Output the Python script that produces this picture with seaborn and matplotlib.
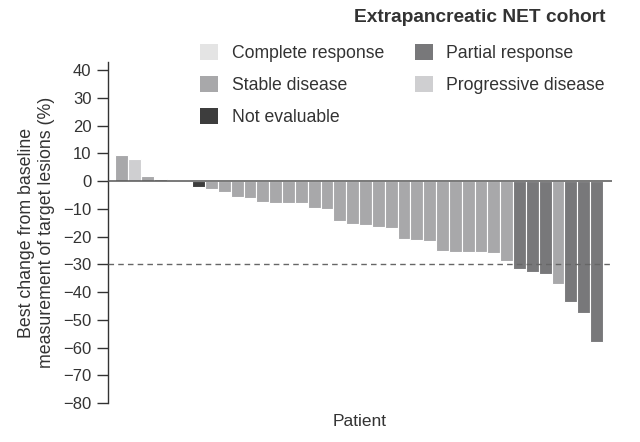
import numpy as np
import pandas as pd
import matplotlib
matplotlib.use("Agg")
import matplotlib.pyplot as plt
from matplotlib.patches import Patch
import seaborn as sns

# ---- data ----
change = [9.5, 8.0, 1.8, 0.7, 0.0, 0.0, -2.2, -2.7, -4.0, -5.6, -6.0, -7.6,
          -8.0, -8.0, -8.0, -9.8, -10.2, -14.4, -15.5, -15.9, -16.7, -16.9,
          -20.8, -21.1, -21.7, -25.0, -25.5, -25.5, -25.5, -26.0, -28.8,
          -31.6, -32.6, -33.6, -36.9, -43.4, -47.7, -58.1]
response = ["SD", "PD", "SD", "SD", "SD", "SD", "NE", "SD", "SD", "SD", "SD", "SD",
            "SD", "SD", "SD", "SD", "SD", "SD", "SD", "SD", "SD", "SD",
            "SD", "SD", "SD", "SD", "SD", "SD", "SD", "SD", "SD",
            "PR", "PR", "PR", "SD", "PR", "PR", "PR"]
patients = [f"P{i + 1}" for i in range(len(change))]

labels = {"CR": "Complete response", "PR": "Partial response",
          "SD": "Stable disease", "PD": "Progressive disease",
          "NE": "Not evaluable"}
colors = {"CR": "#e4e4e4", "PR": "#78787a", "SD": "#a8a8aa",
          "PD": "#cfcfd1", "NE": "#3d3d3d"}
yticks = list(range(-80, 41, 10))

df = pd.DataFrame({"patient": patients, "change": change, "response": response})

sns.set_style("white")
plt.rcParams["font.family"] = ["Liberation Sans", "DejaVu Sans"]

fig = plt.figure(figsize=(6.4, 4.42), dpi=100)
ax = fig.add_axes([0.169, 0.088, 0.787, 0.772])

sns.barplot(data=df, x="patient", y="change", hue="response", order=patients,
            palette=colors, dodge=False, width=1.0, edgecolor="white",
            linewidth=0.8, legend=False, ax=ax)

ax.axhline(0, color="#555555", lw=1.1, zorder=3)
ax.axhline(-30, color="#666666", lw=1.0, ls=(0, (4, 3)), zorder=3)

ax.set_xlim(-1.05, 38.2)
ax.set_ylim(-80, 43)
ax.set_yticks(yticks)
ax.set_yticklabels([f"\u2212{abs(v)}" if v < 0 else str(v) for v in yticks])
ax.set_xticks([])
ax.tick_params(axis="y", direction="out", length=8, width=1, color="#333333",
               labelsize=12, labelcolor="#333333", left=True, pad=4)

for s in ["top", "right", "bottom"]:
    ax.spines[s].set_visible(False)
ax.spines["left"].set_color("#333333")
ax.spines["left"].set_linewidth(1)

ax.set_xlabel("Patient", fontsize=12.5, color="#333333", labelpad=8)
ax.set_ylabel("Best change from baseline\nmeasurement of target lesions (%)",
              fontsize=12.8, color="#333333", labelpad=6, linespacing=1.2)

# title and legend: first column CR, SD, NE; second column PR, PD
fig.text(605 / 640, 1 - 18 / 442, "Extrapancreatic NET cohort", ha="right",
         va="center", fontsize=13.8, fontweight="bold", color="#333333")

order = ["CR", "SD", "NE", "PR", "PD"]
handles = [Patch(facecolor=colors[k], edgecolor="none", label=labels[k]) for k in order]
leg = fig.legend(handles=handles, ncol=2, loc="upper right",
                 bbox_to_anchor=(605 / 640, 1 - 44 / 442), frameon=False,
                 fontsize=12.7, borderpad=0, borderaxespad=0,
                 handlelength=1.05, handleheight=1.05, handletextpad=0.75,
                 columnspacing=1.75, labelspacing=0.78, labelcolor="#333333")

fig.savefig("out.png", dpi=100)
